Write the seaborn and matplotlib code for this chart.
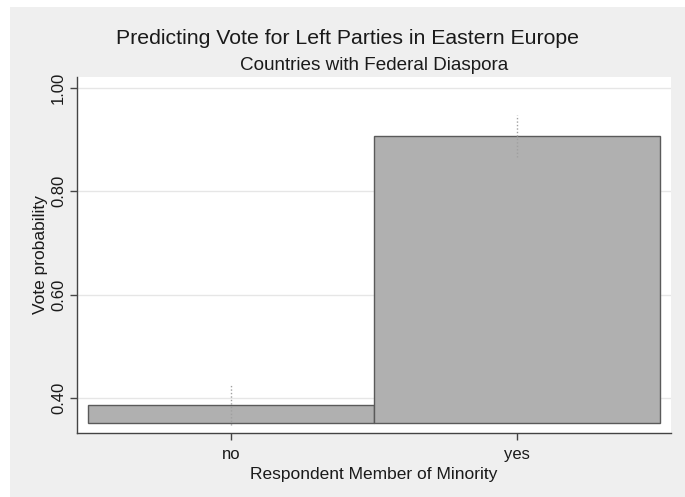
import matplotlib
matplotlib.use("Agg")
import matplotlib.pyplot as plt
from matplotlib.patches import Rectangle
import seaborn as sns
import pandas as pd

################################################
#                 Data
################################################
minority = ["no", "yes"]
vote_prob = [0.3865, 0.9075]
ci_low = [0.348, 0.867]
ci_high = [0.425, 0.948]
bar_base = 0.352
y_ticks = [0.40, 0.60, 0.80, 1.00]

df = pd.DataFrame({"minority": minority, "prob": vote_prob})
df["height"] = df["prob"] - bar_base

################################################
#                 Plot
################################################
sns.set_theme(style="white")
plt.rcParams["font.family"] = ["Liberation Sans", "DejaVu Sans"]
plt.rcParams["text.color"] = "#1a1a1a"
plt.rcParams["axes.labelcolor"] = "#1a1a1a"
plt.rcParams["xtick.color"] = "#1a1a1a"
plt.rcParams["ytick.color"] = "#1a1a1a"

fig = plt.figure(figsize=(6.85, 4.97), dpi=100, facecolor="white")
# stata-like gray graph region, behind the axes
fig.patches.append(Rectangle((10 / 685, 0), 1, 1 - 7 / 497, transform=fig.transFigure,
                             facecolor="#efefef", edgecolor="none", zorder=-10))
ax = fig.add_axes([77 / 685, 1 - 433 / 497, 594 / 685, 356 / 497])
ax.set_facecolor("white")

sns.barplot(data=df, x="minority", y="height", bottom=bar_base, width=1.0,
            color="#b0b0b0", saturation=1, edgecolor="#5a5a5a", linewidth=1.0,
            errorbar=None, ax=ax, zorder=2)

# confidence intervals, faint dotted
ax.vlines(range(len(minority)), ci_low, ci_high, colors="#a0a0a0",
          linestyles=(0, (1, 1.5)), linewidth=1.0, zorder=3)

ax.set_xlim(-0.538, 1.538)
ax.set_ylim(0.332, 1.021)
ax.set_yticks(y_ticks)
ax.set_yticklabels([f"{t:.2f}" for t in y_ticks], rotation=90, va="center", fontsize=12)
ax.tick_params(axis="x", labelsize=12, pad=5)
ax.tick_params(axis="y", pad=3)
ax.tick_params(axis="both", direction="out", length=5, width=1, color="#444444",
               left=True, bottom=True)
ax.yaxis.grid(True, color="#e6e6e6", linewidth=1.0)
ax.set_axisbelow(True)

for side in ["top", "right"]:
    ax.spines[side].set_visible(False)
for side in ["left", "bottom"]:
    ax.spines[side].set_color("#444444")
    ax.spines[side].set_linewidth(1.0)

ax.set_xlabel("Respondent Member of Minority", fontsize=12.5, labelpad=4)
ax.set_ylabel("Vote probability", fontsize=12.5, labelpad=2)

fig.text(348 / 685, 1 - 38 / 497, "Predicting Vote for Left Parties in Eastern Europe",
         ha="center", va="center", fontsize=15.3)
fig.text(374 / 685, 1 - 65 / 497, "Countries with Federal Diaspora",
         ha="center", va="center", fontsize=13.6)

fig.savefig("out.png", dpi=100, facecolor=fig.get_facecolor())
plt.close(fig)
